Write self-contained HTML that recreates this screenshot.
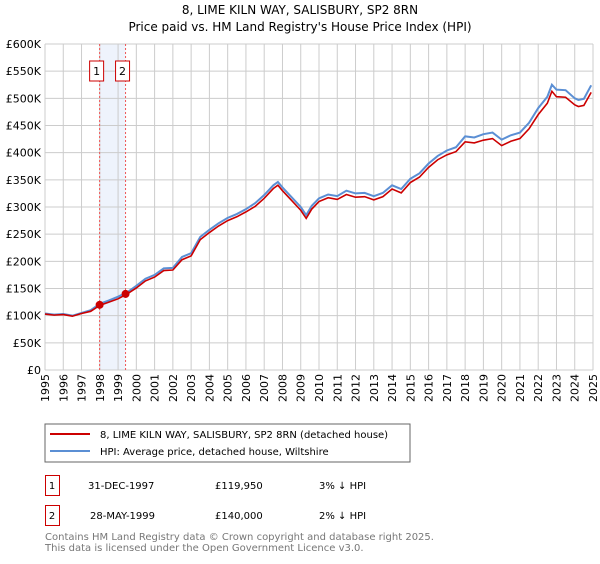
<!DOCTYPE html>
<html><head><meta charset="utf-8"><style>
body{margin:0;background:#fff;font-family:"DejaVu Sans","Liberation Sans",sans-serif;}
svg text{font-family:"DejaVu Sans","Liberation Sans",sans-serif;}
</style></head><body>
<svg id="c" width="600" height="560" xmlns="http://www.w3.org/2000/svg">
<text x="300" y="14" text-anchor="middle" font-size="12">8, LIME KILN WAY, SALISBURY, SP2 8RN</text>
<text x="300" y="31" text-anchor="middle" font-size="12">Price paid vs. HM Land Registry's House Price Index (HPI)</text>
<g id="grid"></g><g id="marks"></g><g id="axes"></g>
<rect x="45" y="424" width="365" height="38" fill="#fff" stroke="#666"/>
<line x1="50" y1="434" x2="90" y2="434" stroke="#cc0000" stroke-width="2"/>
<text x="100" y="438" font-size="10">8, LIME KILN WAY, SALISBURY, SP2 8RN (detached house)</text>
<line x1="50" y1="451" x2="90" y2="451" stroke="#5b8fd4" stroke-width="2"/>
<text x="100" y="455" font-size="10">HPI: Average price, detached house, Wiltshire</text>
<g>
<rect x="45.5" y="475.5" width="14" height="20" fill="#fff" stroke="#cc0000"/><text x="52" y="489" text-anchor="middle" font-size="10">1</text>
<text x="88" y="489" font-size="10">31-DEC-1997</text><text x="215" y="489" font-size="10">£119,950</text><text x="319" y="489" font-size="10">3% ↓ HPI</text></g>
<g>
<rect x="45.5" y="505.5" width="14" height="20" fill="#fff" stroke="#cc0000"/><text x="52" y="519" text-anchor="middle" font-size="10">2</text>
<text x="90" y="519" font-size="10">28-MAY-1999</text><text x="215" y="519" font-size="10">£140,000</text><text x="319" y="519" font-size="10">2% ↓ HPI</text></g>
<text x="45" y="540" font-size="10" fill="#777">Contains HM Land Registry data © Crown copyright and database right 2025.</text>
<text x="45" y="551" font-size="10" fill="#777">This data is licensed under the Open Government Licence v3.0.</text>
</svg>
<script>
const years=[1995,1995.5,1996,1996.5,1997,1997.5,1998,1998.5,1999,1999.5,2000,2000.5,2001,2001.5,2002,2002.5,2003,2003.5,2004,2004.5,2005,2005.5,2006,2006.5,2007,2007.5,2007.75,2008,2008.5,2009,2009.3,2009.6,2010,2010.5,2011,2011.5,2012,2012.5,2013,2013.5,2014,2014.5,2015,2015.5,2016,2016.5,2017,2017.5,2018,2018.5,2019,2019.5,2020,2020.5,2021,2021.5,2022,2022.5,2022.75,2023,2023.5,2024,2024.2,2024.5,2024.9];
const hpi=[104,102,103,100,105,110,122,128,135,143,155,168,175,187,188,208,215,245,258,270,280,287,296,307,322,340,346,336,318,300,285,302,316,323,320,330,325,326,320,326,340,333,352,362,380,394,404,410,430,428,434,437,424,432,437,455,482,503,525,516,515,500,497,499,524];
const prop=[103,101,102,99,104,108,119,125,131,140,151,164,171,183,184,203,210,240,253,265,275,282,291,301,316,334,340,330,312,294,279,296,310,317,314,323,318,319,313,319,333,326,345,355,373,387,396,402,420,418,423,426,413,421,426,444,470,491,513,503,502,488,485,487,511];
const yTicks=[0,50,100,150,200,250,300,350,400,450,500,550,600];
const saleYears=[1997.99,1999.41];
const salePrices=[119.95,140];
const saleLabels=["1","2"];
const X0=45,X1=593,Y0=370,Y1=44;
const xs=y=>X0+(y-1995)/30*(X1-X0);
const ys=v=>Y0-v/600*(Y0-Y1);
const NS="http://www.w3.org/2000/svg";
function mk(p,t,a){const e=document.createElementNS(NS,t);for(const k in a)e.setAttribute(k,a[k]);p.appendChild(e);return e;}
const grid=document.getElementById('grid'),marks=document.getElementById('marks'),axes=document.getElementById('axes');
const band=mk(grid,'rect',{x:xs(saleYears[0]),y:Y1,width:xs(saleYears[1])-xs(saleYears[0]),height:Y0-Y1,fill:'#eef3fc'});


for(let y=1995;y<=2025;y++){
 const g=mk(grid,'line',{x1:xs(y),x2:xs(y),y1:Y1,y2:Y0,stroke:'#ccc'});
 
 
 const tx=xs(y)+4,ty=Y0+4;
 const t=mk(axes,'text',{x:tx,y:ty,'text-anchor':'end','font-size':11,transform:'rotate(-90 '+tx+' '+ty+')'});t.textContent=y;
 
 
}
yTicks.forEach(v=>{
 const g=mk(grid,'line',{x1:X0,x2:X1,y1:ys(v),y2:ys(v),stroke:'#ccc'});
 
 
 const t=mk(axes,'text',{x:X0-4,y:ys(v)+4,'text-anchor':'end','font-size':11});t.textContent=v===0?'£0':'£'+v+'K';
 
 
});
saleYears.forEach((sy,i)=>{
 const l=mk(grid,'line',{x1:xs(sy),x2:xs(sy),y1:Y1,y2:Y0,stroke:'#ee5555','stroke-dasharray':'2,2'});
 
 
});
const lineH=mk(marks,'polyline',{points:years.map((y,i)=>xs(y)+','+ys(hpi[i])).join(' '),fill:'none',stroke:'#5b8fd4','stroke-width':2});


const lineP=mk(marks,'polyline',{points:years.map((y,i)=>xs(y)+','+ys(prop[i])).join(' '),fill:'none',stroke:'#cc0000','stroke-width':1.6});


saleYears.forEach((sy,i)=>{
 const c=mk(marks,'circle',{cx:xs(sy),cy:ys(salePrices[i]),r:4,fill:'#cc0000'});
 
 
 const b=mk(marks,'rect',{x:xs(sy)-10,y:61,width:14,height:20,fill:'#fff',stroke:'#cc0000'});
 
 
 const t=mk(marks,'text',{x:xs(sy)-3,y:75,'text-anchor':'middle','font-size':11});t.textContent=saleLabels[i];
 
 
});
</script>
</body></html>
